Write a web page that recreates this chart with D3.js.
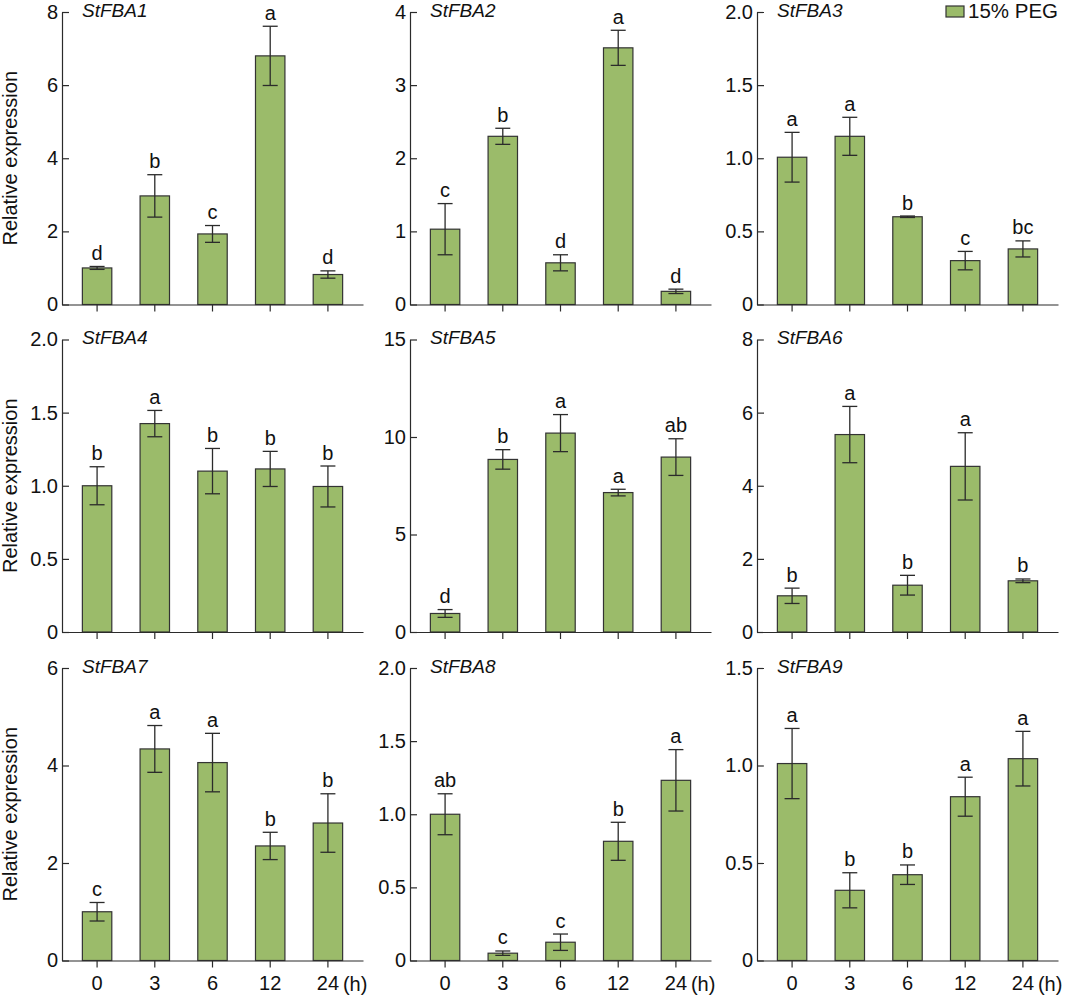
<!DOCTYPE html>
<html>
<head>
<meta charset="utf-8">
<script src="https://cdn.jsdelivr.net/npm/d3@7"></script>
<style>
  body { margin: 0; background: #fff; }
  text { font-family: "Liberation Sans", Arial, sans-serif; fill: #111; }
</style>
</head>
<body>
<svg width="1065" height="996"></svg>
<script>
// ---- data ----
var times = ["0", "3", "6", "12", "24"];
var genes = ["StFBA1", "StFBA2", "StFBA3", "StFBA4", "StFBA5", "StFBA6", "StFBA7", "StFBA8", "StFBA9"];

var fba1 = [1.00, 2.97, 1.93, 6.80, 0.82];
var fba2 = [1.03, 2.30, 0.57, 3.51, 0.18];
var fba3 = [1.007, 1.15, 0.60, 0.30, 0.38];
var fba4 = [1.00, 1.425, 1.10, 1.115, 0.995];
var fba5 = [0.95, 8.85, 10.2, 7.15, 8.97];
var fba6 = [0.99, 5.40, 1.28, 4.53, 1.40];
var fba7 = [1.00, 4.34, 4.06, 2.35, 2.82];
var fba8 = [1.00, 0.05, 0.125, 0.815, 1.232];
var fba9 = [1.01, 0.36, 0.44, 0.84, 1.035];

var err1 = [0.04, 0.58, 0.23, 0.81, 0.10];
var err2 = [0.35, 0.11, 0.11, 0.24, 0.03];
var err3 = [0.17, 0.13, 0.005, 0.063, 0.055];
var err4 = [0.13, 0.09, 0.155, 0.12, 0.14];
var err5 = [0.20, 0.50, 0.95, 0.17, 0.94];
var err6 = [0.21, 0.77, 0.27, 0.92, 0.05];
var err7 = [0.19, 0.48, 0.60, 0.28, 0.60];
var err8 = [0.14, 0.015, 0.056, 0.13, 0.21];
var err9 = [0.18, 0.09, 0.05, 0.10, 0.14];

var let1 = ["d", "b", "c", "a", "d"];
var let2 = ["c", "b", "d", "a", "d"];
var let3 = ["a", "a", "b", "c", "bc"];
var let4 = ["b", "a", "b", "b", "b"];
var let5 = ["d", "b", "a", "a", "ab"];
var let6 = ["b", "a", "b", "a", "b"];
var let7 = ["c", "a", "a", "b", "b"];
var let8 = ["ab", "c", "c", "b", "a"];
var let9 = ["a", "b", "b", "a", "a"];

var yMax  = [8, 4, 2, 2, 15, 8, 6, 2, 1.5];
var yStep = [2, 1, 0.5, 0.5, 5, 2, 2, 0.5, 0.5];

var means = [fba1, fba2, fba3, fba4, fba5, fba6, fba7, fba8, fba9];
var errs = [err1, err2, err3, err4, err5, err6, err7, err8, err9];
var letters = [let1, let2, let3, let4, let5, let6, let7, let8, let9];

var legendLabel = "15% PEG";
var yTitle = "Relative expression";

// ---- layout ----
var colX = [62, 410, 757];
var rowTop = [12, 339.5, 668];
var plotW = 301, plotH = 292.5;
var barFill = "rgb(155,187,106)";
var dark = "#2b2b2b";
var fs = 20;

var svg = d3.select("svg");

genes.forEach(function(gene, k) {
	var col = k % 3, row = Math.floor(k / 3);
	var g = svg.append("g").attr("transform", "translate(" + colX[col] + "," + rowTop[row] + ")");

	var x = d3.scaleBand().domain(times).range([0, plotW]).paddingInner(0.49).paddingOuter(0.353);
	var y = d3.scaleLinear().domain([0, yMax[k]]).range([plotH, 0]);

	var tv = d3.range(0, yMax[k] + yStep[k] / 2, yStep[k]);
	var fmt = function(d) { return d === 0 ? "0" : (yStep[k] < 1 ? d.toFixed(1) : String(d)); };

	var rows = times.map(function(t, i) {
		return { t: t, v: means[k][i], e: errs[k][i], l: letters[k][i] };
	});

	// bars
	g.selectAll("rect.bar").data(rows).enter().append("rect")
		.attr("class", "bar")
		.attr("x", function(d) { return x(d.t); })
		.attr("y", function(d) { return y(d.v); })
		.attr("width", x.bandwidth())
		.attr("height", function(d) { return y(0) - y(d.v); })
		.attr("fill", barFill)
		.attr("stroke", "#333")
		.attr("stroke-width", 1.2);

	// error bars
	var cx = function(d) { return x(d.t) + x.bandwidth() / 2; };
	var eb = g.selectAll("g.err").data(rows).enter().append("g").attr("class", "err")
		.attr("stroke", dark).attr("stroke-width", 1.3);
	eb.append("line")
		.attr("x1", cx).attr("x2", cx)
		.attr("y1", function(d) { return y(d.v + d.e); })
		.attr("y2", function(d) { return y(d.v - d.e); });
	eb.append("line")
		.attr("x1", function(d) { return cx(d) - 7.5; })
		.attr("x2", function(d) { return cx(d) + 7.5; })
		.attr("y1", function(d) { return y(d.v + d.e); })
		.attr("y2", function(d) { return y(d.v + d.e); });
	eb.append("line")
		.attr("x1", function(d) { return cx(d) - 7.5; })
		.attr("x2", function(d) { return cx(d) + 7.5; })
		.attr("y1", function(d) { return y(d.v - d.e); })
		.attr("y2", function(d) { return y(d.v - d.e); });

	// significance letters
	g.selectAll("text.sig").data(rows).enter().append("text")
		.attr("class", "sig")
		.attr("x", cx)
		.attr("y", function(d) { return y(d.v + d.e) - 6.5; })
		.attr("text-anchor", "middle")
		.attr("font-size", fs)
		.text(function(d) { return d.l; });

	// axes
	var yAxis = g.append("g")
		.call(d3.axisLeft(y).tickValues(tv).tickFormat(fmt).tickSizeInner(-7).tickSizeOuter(0).tickPadding(4));
	var xAxis = g.append("g").attr("transform", "translate(0," + plotH + ")")
		.call(d3.axisBottom(x).tickSizeInner(7).tickSizeOuter(0).tickPadding(8)
			.tickFormat(row === 2 ? null : function() { return ""; }));

	[yAxis, xAxis].forEach(function(a) {
		a.selectAll("path, line").attr("stroke", dark).attr("stroke-width", 1.2);
		a.selectAll("text").attr("font-size", fs).attr("fill", "#111")
			.attr("font-family", "Liberation Sans, Arial, sans-serif");
	});

	if (row === 2) {
		g.append("text")
			.attr("x", x("24") + x.bandwidth() / 2 + 15)
			.attr("y", plotH + 30)
			.attr("font-size", fs)
			.text("(h)");
	}

	// gene name
	g.append("text")
		.attr("x", 20)
		.attr("y", 4.5)
		.attr("font-size", 19)
		.attr("font-style", "italic")
		.text(gene);

	// y title on the left column
	if (col === 0) {
		g.append("text")
			.attr("transform", "translate(" + (17 - colX[0]) + "," + (plotH / 2) + ") rotate(-90)")
			.attr("text-anchor", "middle")
			.attr("font-size", fs)
			.text(yTitle);
	}
});

// legend
var lg = svg.append("g").attr("transform", "translate(946,6)");
lg.append("rect").attr("width", 18).attr("height", 11)
	.attr("fill", barFill).attr("stroke", "#333").attr("stroke-width", 1.2);
lg.append("text").attr("x", 22).attr("y", 11.5).attr("font-size", 20.5).text(legendLabel);
</script>
</body>
</html>
